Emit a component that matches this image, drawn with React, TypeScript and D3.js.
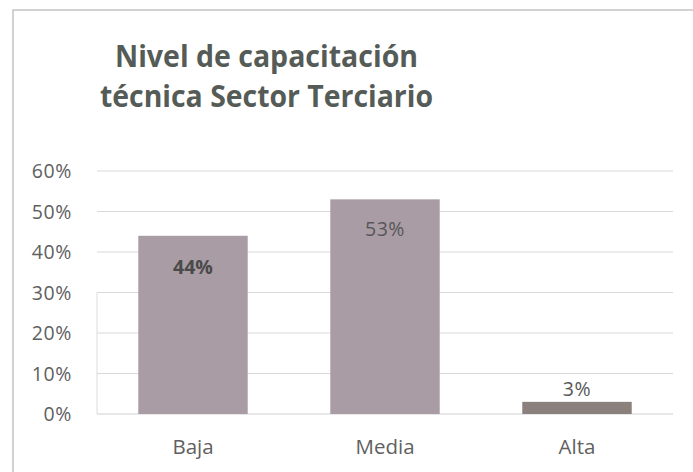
import React from "react";
import * as d3 from "d3";

const categories = ["Baja", "Media", "Alta"];
const values = [0.44, 0.53, 0.03];
const valueLabels = ["44%", "53%", "3%"];
const yTicks = [0, 0.1, 0.2, 0.3, 0.4, 0.5, 0.6];
const titleLines = ["Nivel de capacitación", "técnica Sector Terciario"];

const W = 693;
const H = 472;
const plot = { left: 97, right: 673, top: 171, bottom: 414 };
const font = "'Open Sans', 'Noto Sans', sans-serif";
const titleWidths = [303, 333];

export default function App() {
  const x = d3.scaleBand<string>().domain(categories).range([plot.left, plot.right]).paddingInner(0.43).paddingOuter(0.215);
  const y = d3.scaleLinear().domain([0, 0.6]).range([plot.bottom, plot.top]);
  const fmt = d3.format(".0%");
  const barColors = ["#a99ca5", "#a99ca5", "#8a807c"];
  return (
    <svg width={W} height={H} style={{ position: "fixed", left: 0, top: 0, background: "#fff" }}>
      <rect x={13} y={10} width={W + 10} height={H + 10} fill="#fff" stroke="#b5b5b5" strokeWidth={1.2} />
      {titleLines.map((t, i) => (
        <text
          key={t}
          x={266.5}
          y={67 + i * 40}
          textAnchor="middle"
          fontFamily={font}
          fontWeight={700}
          fontSize={31}
          fill="#555b56"
          textLength={titleWidths[i]}
          lengthAdjust="spacingAndGlyphs"
        >
          {t}
        </text>
      ))}
      {yTicks.map((t) => (
        <g key={t}>
          {t > 0 && <line x1={plot.left} x2={plot.right} y1={y(t)} y2={y(t)} stroke="#d9d9d9" strokeWidth={1} />}
          <text x={72} y={y(t)} dy="0.36em" textAnchor="end" fontFamily={font} fontSize={19.5} letterSpacing={0.6} fill="#606060">
            {fmt(t)}
          </text>
        </g>
      ))}
      <line x1={plot.left} x2={plot.left} y1={y(0.3)} y2={plot.bottom} stroke="#dcdcdc" />
      <line x1={plot.left} x2={plot.right} y1={plot.bottom} y2={plot.bottom} stroke="#d0d0d0" />
      {categories.map((c, i) => {
        const bx = x(c)!;
        const top = y(values[i]);
        const inside = values[i] > 0.1;
        return (
          <g key={c}>
            <rect x={bx} y={top} width={x.bandwidth()} height={plot.bottom - top} fill={barColors[i]} />
            <text
              x={bx + x.bandwidth() / 2}
              y={inside ? top + (i === 0 ? 31 : 30) : top - 13}
              dy="0.36em"
              textAnchor="middle"
              fontFamily={font}
              fontWeight={i === 0 ? 700 : 400}
              fontSize={19.5}
              letterSpacing={i === 0 ? 0 : 0.5}
              fill={i === 0 ? "#4a4a4a" : "#585858"}
            >
              {valueLabels[i]}
            </text>
            <text x={bx + x.bandwidth() / 2} y={447} dy="0.36em" textAnchor="middle" fontFamily={font} fontSize={20.5} fill="#606060">
              {c}
            </text>
          </g>
        );
      })}
    </svg>
  );
}
